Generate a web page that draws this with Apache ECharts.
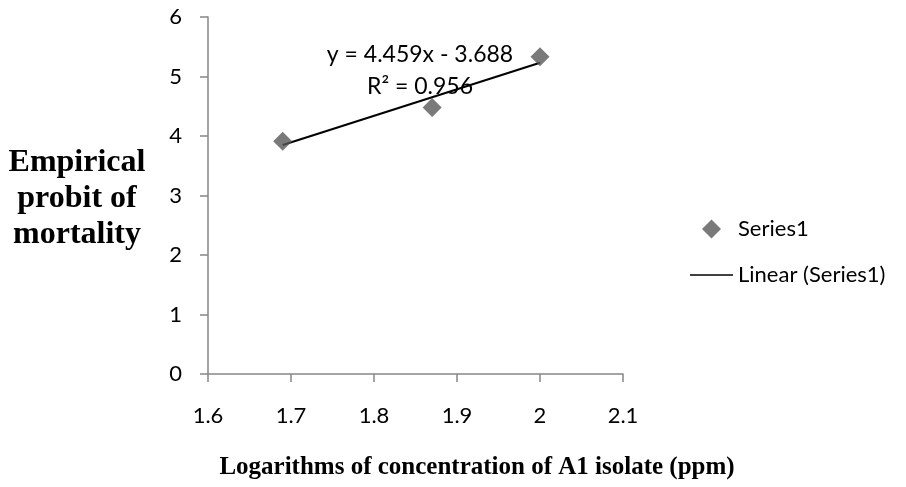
<!DOCTYPE html>
<html>
<head>
<meta charset="utf-8">
<script src="https://cdn.jsdelivr.net/npm/echarts@6/dist/echarts.min.js"></script>
<style>html,body{margin:0;padding:0;background:#fff}#c{width:906px;height:487px}</style>
</head>
<body>
<div id="c"></div>
<script>
// Data
const logConc = [1.69, 1.87, 2.0];
const probit = [3.91, 4.48, 5.33];
const slope = 4.459;
const intercept = -3.688;
const rSquared = 0.956;
const xTicks = [1.6, 1.7, 1.8, 1.9, 2, 2.1];
const yTicks = [0, 1, 2, 3, 4, 5, 6];
const seriesName = 'Series1';
const trendName = 'Linear (Series1)';

const points = logConc.map((x, i) => [x, probit[i]]);
const xMinData = Math.min(...logConc), xMaxData = Math.max(...logConc);
const trend = [[xMinData, slope * xMinData + intercept], [xMaxData, slope * xMaxData + intercept]];

const chart = echarts.init(document.getElementById('c'));
const sans = 'Lato';
const axisGray = '#868686';
const diamondPath = 'path://M10,0 L20,10 L10,20 L0,10 Z';

chart.setOption({
  animation: false,
  grid: { left: 208, right: 283, top: 17, bottom: 113 },
  xAxis: {
    type: 'value', min: xTicks[0], max: xTicks[xTicks.length - 1], interval: 0.1,
    splitLine: { show: false },
    axisLine: { show: true, onZero: false, lineStyle: { color: axisGray, width: 1.5 } },
    axisTick: { show: true, length: 8, lineStyle: { color: axisGray, width: 1.5 } },
    axisLabel: { color: '#000', fontFamily: sans, fontSize: 22, margin: 31 }
  },
  yAxis: {
    type: 'value', min: yTicks[0], max: yTicks[yTicks.length - 1], interval: 1,
    splitLine: { show: false },
    axisLine: { show: true, lineStyle: { color: axisGray, width: 1.5 } },
    axisTick: { show: true, length: 8, lineStyle: { color: axisGray, width: 1.5 } },
    axisLabel: { color: '#000', fontFamily: sans, fontSize: 22, margin: 26 }
  },
  legend: {
    orient: 'vertical', left: 690, top: 218, padding: 0, itemWidth: 43, itemHeight: 19, itemGap: 24,
    textStyle: { fontFamily: sans, fontSize: 22, color: '#000' },
    symbolKeepAspect: true,
    data: [
      { name: seriesName, icon: diamondPath, itemStyle: { color: '#595959' } },
      { name: trendName, icon: 'path://M0,0 L43,0 L43,1.6 L0,1.6 Z', itemStyle: { color: '#000' } }
    ]
  },
  series: [
    {
      name: seriesName, type: 'scatter', data: points,
      symbol: 'diamond', symbolSize: 19, itemStyle: { color: '#595959' }, z: 3
    },
    {
      name: trendName, type: 'line', data: trend, showSymbol: false, symbol: 'none',
      lineStyle: { color: '#000', width: 2 }, itemStyle: { color: '#000' }, z: 2
    }
  ],
  graphic: [
    { type: 'text', x: 420, y: 55, style: { text: 'y = ' + slope + 'x - ' + Math.abs(intercept).toFixed(3), font: '23px Lato', fill: '#000', align: 'center', verticalAlign: 'middle' }, z: 1 },
    { type: 'text', x: 420, y: 87, style: { text: 'R² = ' + rSquared, font: '23px Lato', fill: '#000', align: 'center', verticalAlign: 'middle' }, z: 1 },
    { type: 'text', x: 77, y: 199, style: { text: 'Empirical\nprobit of\nmortality', font: 'bold 32px "Liberation Serif"', fill: '#000', align: 'center', verticalAlign: 'middle', lineHeight: 36 } },
    { type: 'text', x: 477, y: 468, style: { text: 'Logarithms of concentration of A1 isolate (ppm)', font: 'bold 25px "Liberation Serif"', fill: '#000', align: 'center', verticalAlign: 'middle' } }
  ]
});
</script>
</body>
</html>
